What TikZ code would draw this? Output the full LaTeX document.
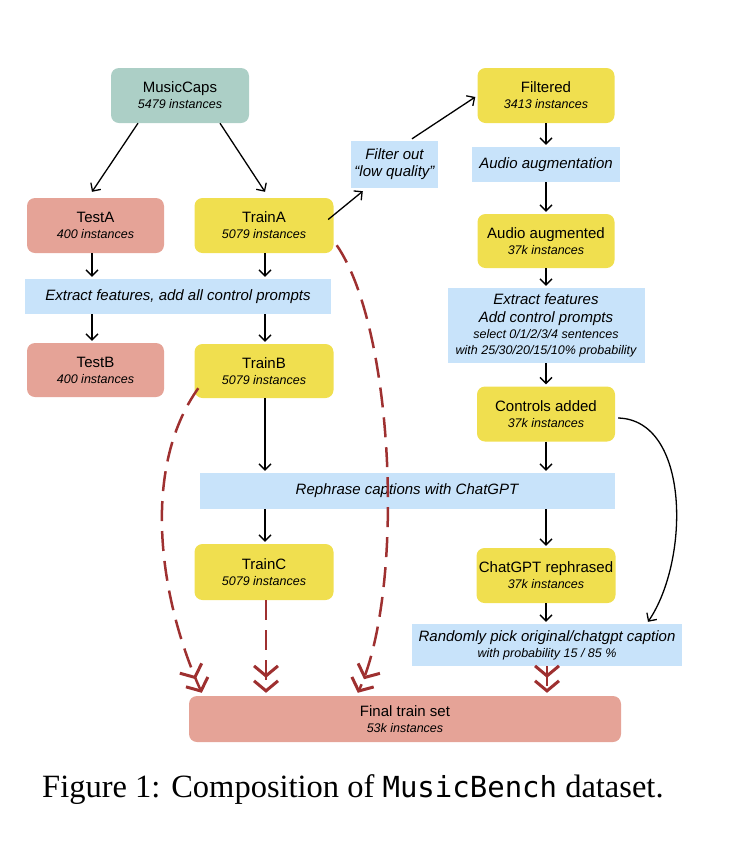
\documentclass[tikz,border=0pt]{standalone}
\usepackage{fontspec}
\setmainfont{Liberation Sans}
\newfontfamily\capserif{Liberation Serif}
\newfontfamily\capmono{DejaVu Sans Mono}
\usetikzlibrary{arrows.meta,calc}
\definecolor{mcteal}{HTML}{ACCFC6}
\definecolor{salm}{HTML}{E5A397}
\definecolor{yell}{HTML}{F0DF4F}
\definecolor{lblue}{HTML}{C8E3FA}
\definecolor{dred}{HTML}{9E3030}
\newcommand\sbt[1]{{\fontsize{12.5}{16}\selectfont\itshape #1}}
\tikzset{
  basebox/.style={inner sep=0pt, align=center, font=\fontsize{15}{16}\selectfont},
  tealbox/.style={basebox, fill=mcteal, rounded corners=8pt},
  redbox/.style={basebox, fill=salm, rounded corners=8pt},
  ybox/.style={basebox, fill=yell, rounded corners=8pt},
  bbox/.style={basebox, fill=lblue, font=\fontsize{15}{18}\selectfont\itshape},
  arr/.style={draw=black, line width=1.3pt, -{Straight Barb[length=6pt,width=12pt]}},
  dbl/.style={draw=dred, line width=2.5pt, dash pattern=on 20pt off 10pt,
    -{Straight Barb[length=10pt,width=24pt,line width=3pt,sep=1.5pt] Straight Barb[length=10pt,width=24pt,line width=3pt]}},
}
\begin{document}
\begin{tikzpicture}[x=1pt,y=-1pt]
\useasboundingbox (0,0) rectangle (750,855);
% left / middle column
\node[tealbox, minimum width=138pt, minimum height=55pt] (mc) at (180,95.5) {MusicCaps\\\sbt{5479 instances}};
\node[redbox, minimum width=137pt, minimum height=55pt] (testA) at (95.5,225.5) {TestA\\\sbt{400 instances}};
\node[ybox, minimum width=139pt, minimum height=55pt] (trainA) at (264,225.5) {TrainA\\\sbt{5079 instances}};
\node[bbox, minimum width=306pt, minimum height=35pt] (ext1) at (178,296.5) {Extract features, add all control prompts};
\node[redbox, minimum width=137pt, minimum height=54pt] (testB) at (95.5,370) {TestB\\\sbt{400 instances}};
\node[ybox, minimum width=139pt, minimum height=54pt] (trainB) at (264,371) {TrainB\\\sbt{5079 instances}};
\node[bbox, minimum width=415pt, minimum height=36pt] (reph) at (407,491) {Rephrase captions with ChatGPT};
\node[ybox, minimum width=139pt, minimum height=56pt] (trainC) at (264,572) {TrainC\\\sbt{5079 instances}};
% filter
\node[bbox, minimum width=87pt, minimum height=47pt] (filt) at (394.5,164.5) {Filter out\\[-1pt]\textquotedblleft low quality\textquotedblright};
% right column
\node[ybox, minimum width=137pt, minimum height=55pt] (filtered) at (546,95.5) {Filtered\\\sbt{3413 instances}};
\node[bbox, minimum width=148pt, minimum height=35pt] (aug) at (546,164.5) {Audio augmentation};
\node[ybox, minimum width=137pt, minimum height=54pt] (augd) at (546,241) {Audio augmented\\\sbt{37k instances}};
\node[bbox, minimum width=197pt, minimum height=75pt] (ext2) at (546,325.5) {Extract features\\Add control prompts\\[-2pt]\sbt{select 0/1/2/3/4 sentences}\\[-2pt]\sbt{with 25/30/20/15/10\% probability}};
\node[ybox, minimum width=138pt, minimum height=55pt] (ctrl) at (546,414) {Controls added\\\sbt{37k instances}};
\node[ybox, minimum width=139pt, minimum height=55pt] (chat) at (546,575.5) {ChatGPT rephrased\\\sbt{37k instances}};
\node[bbox, minimum width=270pt, minimum height=42pt] (rand) at (547,645) {Randomly pick original/chatgpt caption\\[-2pt]\sbt{with probability 15 / 85 \%}};
\node[redbox, minimum width=432pt, minimum height=46pt] (final) at (405,719) {Final train set\\\sbt{53k instances}};
% caption
\node[anchor=base west, inner sep=0pt, font=\fontsize{32.5}{36}\selectfont\capserif] (cap) at (42,797) {Figure 1: Composition of {\capmono\fontsize{29}{36}\selectfont MusicBench} dataset.};
% black arrows
\draw[arr] ($(mc.south)+(-42,0)$) -- ($(testA.north)+(-3.5,-6)$);
\draw[arr] ($(mc.south)+(40,0)$) -- ($(trainA.north)+(1,-6)$);
\draw[arr] ($(testA.south)+(-3.5,0)$) -- ($(testA.south |- ext1.north)+(-3.5,-2)$);
\draw[arr] ($(trainA.south)+(1,0)$) -- ($(trainA.south |- ext1.north)+(1,-2)$);
\draw[arr] ($(ext1.south -| testB.north)+(-3.5,0)$) -- ($(testB.north)+(-3.5,-2)$);
\draw[arr] ($(ext1.south -| trainB.north)+(1,0)$) -- ($(trainB.north)+(1,-2)$);
\draw[arr] ($(trainB.south)+(1,0)$) -- ($(trainB.south |- reph.north)+(1,-2)$);
\draw[arr] ($(reph.south -| trainC.north)+(1,0)$) -- ($(trainC.north)+(1,-2)$);
\draw[arr] ($(trainA.east)+(-5.5,-6)$) -- ($(filt.south west)+(12,3)$);
\draw[arr] ($(filt.north)+(17.5,-2)$) -- ($(filtered.west)+(-2,1.5)$);
\draw[arr] (filtered.south) -- ($(aug.north)+(0,-2)$);
\draw[arr] (aug.south) -- ($(augd.north)+(0,-2)$);
\draw[arr] (augd.south) -- ($(ext2.north)+(0,-2)$);
\draw[arr] (ext2.south) -- ($(ctrl.north)+(0,-2)$);
\draw[arr] (ctrl.south) -- ($(ctrl.south |- reph.north)+(0,-2)$);
\draw[arr] (reph.south -| chat.north) -- ($(chat.north)+(0,-2)$);
\draw[arr] (chat.south) -- ($(chat.south |- rand.north)+(0,-2)$);
\draw[draw=black, line width=1.3pt, -{Straight Barb[length=6pt,width=12pt]}] ($(ctrl.east)+(3,4)$) .. controls (690,420) and (690,560) .. ($(rand.north)+(101,-2)$);
% red dashed double arrows
\draw[dbl] ($(trainB.south west)+(4,-10)$) .. controls (140,470) and (160,600) .. ($(final.north west)+(13,-3)$);
\draw[dbl] ($(trainC.south)+(2,0)$) -- ($(trainC.south |- final.north)+(2,-3)$);
\draw[dbl] ($(trainA.south east)+(3,-8)$) .. controls (395,330) and (405,590) .. ($(final.north west)+(169,-3)$);
\draw[dbl] (rand.south) -- ($(rand.south |- final.north)+(0,-3)$);
\end{tikzpicture}
\end{document}
